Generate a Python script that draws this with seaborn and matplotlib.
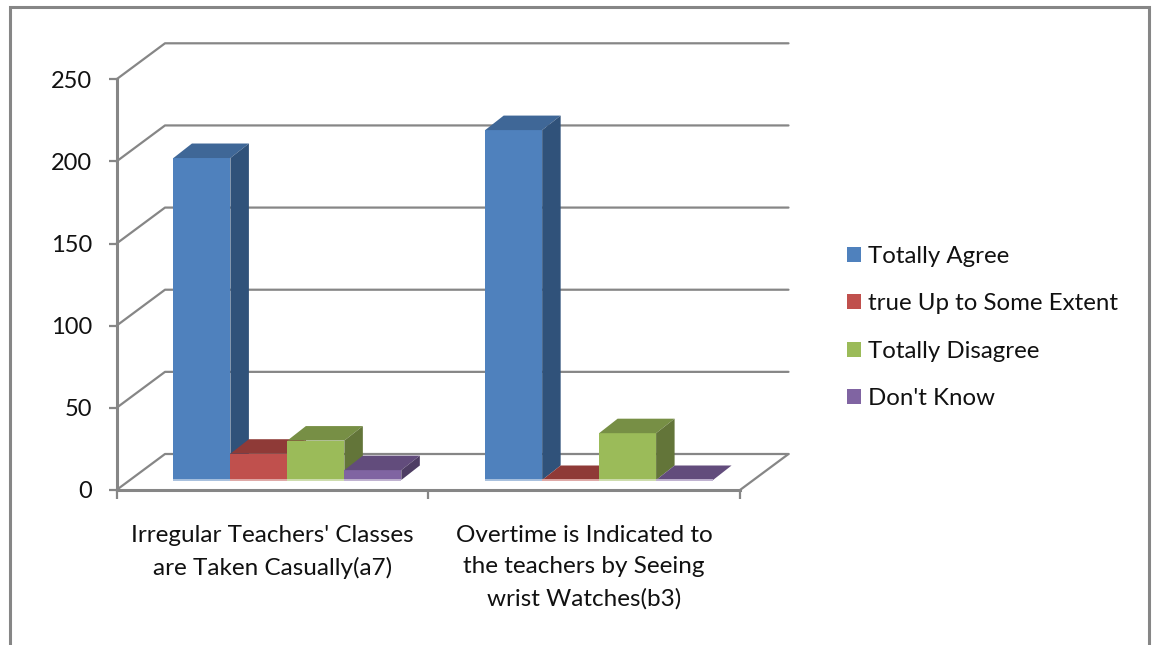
import matplotlib
matplotlib.use('Agg')
import matplotlib.pyplot as plt
from matplotlib.lines import Line2D
import seaborn as sns
import pandas as pd

categories = ["Irregular Teachers' Classes\nare Taken Casually(a7)",
              "Overtime is Indicated to\nthe teachers by Seeing\nwrist Watches(b3)"]
responses = ['Totally Agree', 'true Up to Some Extent', 'Totally Disagree', "Don't Know"]
totally_agree = [196, 213]
true_some_extent = [16, 0]
totally_disagree = [24, 28.5]
dont_know = [6, 0]
y_ticks = [0, 50, 100, 150, 200, 250]

front_colors = ['#4F81BD', '#C0504D', '#9BBB59', '#8064A2']
top_colors = ['#3F6797', '#8F3A37', '#778F45', '#624C7C']
side_colors = ['#30527A', '#8F3A37', '#637539', '#4E3D63']
fringe_colors = ['#A7C0DE', '#DFA8A6', '#CDDDAC', '#BFB1D0']
gray = '#868686'

W, H = 1153, 645
sns.set_theme(style='white')
plt.rcParams['font.family'] = ['Lato', 'DejaVu Sans']

df = pd.DataFrame({
    'category': categories * 4,
    'response': [r for r in responses for _ in categories],
    'value': totally_agree + true_some_extent + totally_disagree + dont_know,
})

fig = plt.figure(figsize=(W / 100, H / 100), dpi=100)
ax = fig.add_axes([116.5 / W, (H - 490) / H, (740 - 116.5) / W, (490 - 79.3) / H])
sns.barplot(data=df, x='category', y='value', hue='response', hue_order=responses,
            palette=front_colors, saturation=1, width=0.731, gap=0, linewidth=0,
            errorbar=None, ax=ax)
ax.set_xlim(-0.5, 1.5)
ax.set_ylim(0, 250)
ax.set_xlabel('')
ax.set_ylabel('')

# pixels to data units, for the fake 3d depth
px_x = 2 / (740 - 116.5)
px_y = 250 / (490 - 79.3)
wall_dx, wall_dy = 48.5 * px_x, 36 * px_y
bar_dx, bar_dy = 18.5 * px_x, 14.5 * px_y
shift_x, shift_y = 15 * px_x, 10 * px_y

# back wall and floor
x0, x1 = ax.get_xlim()
for t in y_ticks:
    ax.plot([x0, x0 + wall_dx, x1 + wall_dx], [t, t + wall_dy, t + wall_dy],
            color=gray, lw=1.6, clip_on=False, zorder=1)
ax.plot([x1, x1 + wall_dx], [0, wall_dy], color=gray, lw=1.6, clip_on=False, zorder=1)

# bars: move up onto the floor, then add top and side faces
for i, container in enumerate(ax.containers):
    z = 3 + i
    for bar in container:
        x = bar.get_x() + shift_x
        w = bar.get_width()
        h = bar.get_height()
        bar.set_x(x)
        bar.set_y(shift_y)
        bar.set_clip_on(False)
        bar.set_zorder(z)
        b = shift_y
        t = shift_y + h
        ax.fill([x, x + w, x + w + bar_dx, x + bar_dx], [t, t, t + bar_dy, t + bar_dy],
                color=top_colors[i], lw=0, clip_on=False, zorder=z)
        if h > 0:
            ax.fill([x + w, x + w + bar_dx, x + w + bar_dx, x + w],
                    [b, b + bar_dy, t + bar_dy, t],
                    color=side_colors[i], lw=0, clip_on=False, zorder=z)
        ax.plot([x, x + w], [b, b], color=fringe_colors[i], lw=1.4, clip_on=False,
                solid_capstyle='butt', zorder=z)

for s in ['top', 'right']:
    ax.spines[s].set_visible(False)
for s in ['left', 'bottom']:
    ax.spines[s].set_color(gray)
    ax.spines[s].set_linewidth(2.2)
    ax.spines[s].set_zorder(2)

ax.set_yticks(y_ticks)
ax.set_xticks([-0.5, 0.5, 1.5], labels=['', '', ''])
ax.set_xticks([0, 1], labels=categories, minor=True)
ax.tick_params(axis='y', left=True, length=6, width=1.6, color=gray, pad=11.5, labelsize=17,
               labelcolor='#111111')
ax.tick_params(axis='x', which='major', bottom=True, length=6.5, width=1.6, color=gray)
ax.tick_params(axis='x', which='minor', bottom=False, length=0, pad=25, labelsize=17.5,
               labelcolor='#111111')
for lab in ax.get_xticklabels(minor=True):
    lab.set_linespacing(1.62)

handles, labels = ax.get_legend_handles_labels()
ax.legend(handles, labels, loc='center left', bbox_to_anchor=(847 / W, (H - 327.5) / H),
          bbox_transform=fig.transFigure, frameon=False, fontsize=17.3, labelcolor='#111111',
          handlelength=0.58, handleheight=0.58, handletextpad=0.3, labelspacing=1.1,
          borderpad=0, borderaxespad=0)

# outer frame, open at the bottom of the image
fig.add_artist(Line2D([10.5 / W, 10.5 / W, 1148.5 / W, 1148.5 / W],
                      [0, (H - 6.5) / H, (H - 6.5) / H, 0],
                      color=gray, lw=2.2, solid_joinstyle='miter', transform=fig.transFigure))

fig.savefig('out.png', dpi=100)
